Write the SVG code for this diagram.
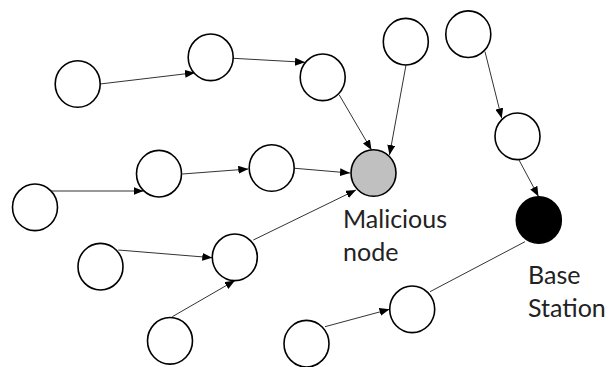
<svg xmlns="http://www.w3.org/2000/svg" width="610" height="367" viewBox="0 0 610 367">
  <defs>
    <style>
      .node { fill: #ffffff; stroke: #000000; stroke-width: 1.6; }
      .mal { fill: #c0c0c0; }
      .bs { fill: #000000; }
      .edge { stroke: #333333; stroke-width: 1; fill: none; }
      .arr { marker-end: url(#ah); }
      .lbl { font-family: Lato, "Open Sans", sans-serif; font-size: 25px; fill: #222222; }
    </style>
    <marker id="ah" markerUnits="userSpaceOnUse" markerWidth="10" markerHeight="8" refX="10" refY="4" orient="auto">
      <path d="M0,0 L10,4 L0,8 z" fill="#000000"/>
    </marker>
  </defs>
  <rect width="610" height="367" fill="#ffffff"/>
  <g id="connectors">
    <line class="edge arr" x1="100" y1="84" x2="195" y2="72.7"/>
    <line class="edge arr" x1="233.3" y1="58.3" x2="305" y2="62.3"/>
    <line class="edge arr" x1="339.3" y1="95" x2="371.5" y2="150"/>
    <line class="edge arr" x1="406" y1="65" x2="389.5" y2="155"/>
    <line class="edge arr" x1="485" y1="51.7" x2="501.7" y2="118.3"/>
    <line class="edge arr" x1="519" y1="160" x2="538.5" y2="196.5"/>
    <line class="edge arr" x1="182.3" y1="174" x2="248.3" y2="169"/>
    <line class="edge arr" x1="295" y1="168.3" x2="350" y2="173"/>
    <line class="edge arr" x1="51.5" y1="191" x2="143.5" y2="191"/>
    <line class="edge arr" x1="118.3" y1="250" x2="212.3" y2="257.7"/>
    <line class="edge arr" x1="172.3" y1="316.7" x2="235" y2="280.5"/>
    <line class="edge arr" x1="253.3" y1="240" x2="356" y2="190"/>
    <line class="edge arr" x1="325" y1="326.7" x2="389.5" y2="309.3"/>
    <line class="edge" x1="430" y1="291.7" x2="525" y2="241.7"/>
  </g>
  <g id="nA"><ellipse class="node" cx="77.7" cy="84" rx="22.5" ry="23.3"/></g>
  <g id="nB"><ellipse class="node" cx="210.7" cy="57.3" rx="22.5" ry="23.3"/></g>
  <g id="nC"><ellipse class="node" cx="322.7" cy="77.3" rx="22.5" ry="23.3"/></g>
  <g id="nD"><ellipse class="node" cx="405.8" cy="41.7" rx="22.5" ry="23.3"/></g>
  <g id="nE"><ellipse class="node" cx="468.3" cy="34.2" rx="22.5" ry="23.3"/></g>
  <g id="nF"><ellipse class="node" cx="517.5" cy="136.3" rx="22.5" ry="23.3"/></g>
  <g id="malicious"><ellipse class="node mal" cx="373.5" cy="173" rx="22.5" ry="23.3"/>
    <text class="lbl" x="343" y="228">Malicious</text>
    <text class="lbl" x="343" y="261">node</text>
  </g>
  <g id="baseStation"><ellipse class="node bs" cx="538.8" cy="220" rx="22.5" ry="23.3"/>
    <text class="lbl" x="528" y="284">Base</text>
    <text class="lbl" x="528" y="317">Station</text>
  </g>
  <g id="nI"><ellipse class="node" cx="159" cy="173.7" rx="22.5" ry="23.3"/></g>
  <g id="nJ"><ellipse class="node" cx="271.7" cy="168" rx="22.5" ry="23.3"/></g>
  <g id="nK"><ellipse class="node" cx="35" cy="207.3" rx="22.5" ry="23.3"/></g>
  <g id="nL"><ellipse class="node" cx="100.5" cy="266.7" rx="22.5" ry="23.3"/></g>
  <g id="nM"><ellipse class="node" cx="234.8" cy="257.3" rx="22.5" ry="23.3"/></g>
  <g id="nN"><ellipse class="node" cx="170" cy="340.8" rx="22.5" ry="23.3"/></g>
  <g id="nO"><ellipse class="node" cx="412.2" cy="309.3" rx="22.5" ry="23.3"/></g>
  <g id="nP"><ellipse class="node" cx="306.5" cy="343.7" rx="22.5" ry="23.3"/></g>
</svg>
